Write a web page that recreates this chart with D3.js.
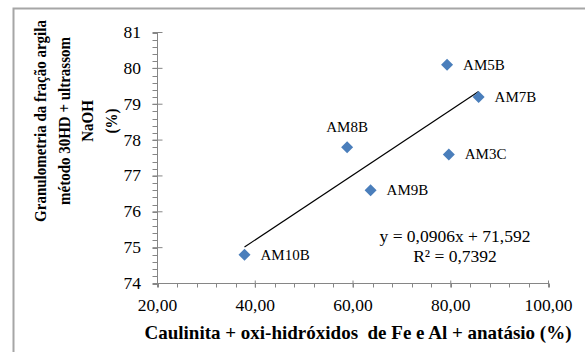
<!DOCTYPE html>
<html>
<head>
<meta charset="utf-8">
<script src="https://cdn.jsdelivr.net/npm/d3@7"></script>
<style>
  body { margin: 0; background: #fff; }
  svg { display: block; font-family: "Liberation Serif", "Times New Roman", serif; }
</style>
</head>
<body>
<div id="chart"></div>
<script>
// Sample data
const samples = ['AM5B', 'AM7B', 'AM8B', 'AM3C', 'AM9B', 'AM10B'];
const xValues = [79.25, 85.7, 58.8, 79.6, 63.6, 37.8];
const yValues = [80.1, 79.2, 77.8, 77.6, 76.6, 74.8];

// Linear trendline
const slope = 0.0906;
const intercept = 71.592;
const equationLines = ['y = 0,0906x + 71,592', 'R² = 0,7392'];

const xTicks = [20, 40, 60, 80, 100];
const yTicks = [74, 75, 76, 77, 78, 79, 80, 81];

const xTitle = 'Caulinita + oxi-hidróxidos  de Fe e Al + anatásio (%)';
const yTitleLines = ['Granulometria da fração argila', 'método 30HD + ultrassom', 'NaOH', '(%)'];

const width = 585, height = 352;
const axisColor = '#868686';
const markerColor = '#4a7ebb';

const svg = d3.select('#chart').append('svg')
  .attr('width', width)
  .attr('height', height);

// Outer chart border
svg.append('rect')
  .attr('x', 13.5).attr('y', 8.5)
  .attr('width', 600).attr('height', 400)
  .attr('fill', 'none')
  .attr('stroke', '#a6a6a6')
  .attr('stroke-width', 2);

const x = d3.scaleLinear().domain([20, 100]).range([157.5, 548.5]);
const y = d3.scaleLinear().domain([74, 81]).range([283.5, 32.5]);

// Y axis: line, minor ticks (left), major ticks (crossing)
const g = svg.append('g');
g.append('line')
  .attr('x1', x(20)).attr('x2', x(20))
  .attr('y1', y(81)).attr('y2', y(74))
  .attr('stroke', axisColor);

g.selectAll('.y-minor')
  .data(d3.range(74, 81.001, 0.2))
  .join('line')
  .attr('x1', x(20) - 5).attr('x2', x(20))
  .attr('y1', d => Math.round(y(d)) + 0.5).attr('y2', d => Math.round(y(d)) + 0.5)
  .attr('stroke', axisColor);

g.selectAll('.y-major')
  .data(yTicks)
  .join('line')
  .attr('x1', x(20) - 5).attr('x2', x(20) + 5)
  .attr('y1', d => y(d)).attr('y2', d => y(d))
  .attr('stroke', axisColor);

g.selectAll('.y-label')
  .data(yTicks)
  .join('text')
  .attr('x', 141)
  .attr('y', d => y(d) + 5.5)
  .attr('text-anchor', 'end')
  .attr('font-size', '17.5px')
  .text(d => d);

// X axis
g.append('line')
  .attr('x1', x(20)).attr('x2', x(100))
  .attr('y1', y(74)).attr('y2', y(74))
  .attr('stroke', axisColor);

g.selectAll('.x-minor')
  .data(d3.range(20, 100.001, 4))
  .join('line')
  .attr('x1', d => Math.round(x(d)) + 0.5).attr('x2', d => Math.round(x(d)) + 0.5)
  .attr('y1', y(74)).attr('y2', y(74) + 4)
  .attr('stroke', axisColor);

g.selectAll('.x-major')
  .data(xTicks)
  .join('line')
  .attr('x1', d => x(d)).attr('x2', d => x(d))
  .attr('y1', y(74) - 3).attr('y2', y(74) + 4)
  .attr('stroke', axisColor);

g.selectAll('.x-label')
  .data(xTicks)
  .join('text')
  .attr('x', d => x(d))
  .attr('y', 310.5)
  .attr('text-anchor', 'middle')
  .attr('font-size', '17.5px')
  .text(d => d.toFixed(2).replace('.', ','));

// Axis titles
svg.append('text')
  .attr('x', 358)
  .attr('y', 339)
  .attr('text-anchor', 'middle')
  .attr('font-size', '19px')
  .attr('font-weight', 'bold')
  .attr('xml:space', 'preserve')
  .style('white-space', 'pre')
  .text(xTitle);

yTitleLines.forEach((line, i) => {
  const cx = 46 + i * 23.5;
  svg.append('text')
    .attr('transform', `translate(${cx},121) scale(1.12,1) rotate(-90)`)
    .attr('text-anchor', 'middle')
    .attr('font-size', '15px')
    .attr('font-weight', 'bold')
    .text(line);
});

// Trendline over the data range
const xExt = d3.extent(xValues);
svg.append('line')
  .attr('x1', x(xExt[0])).attr('y1', y(slope * xExt[0] + intercept))
  .attr('x2', x(xExt[1])).attr('y2', y(slope * xExt[1] + intercept))
  .attr('stroke', '#000')
  .attr('stroke-width', 1.2);

// Diamond markers
const pts = samples.map((s, i) => ({ name: s, x: xValues[i], y: yValues[i] }));
svg.selectAll('.pt')
  .data(pts)
  .join('path')
  .attr('d', d => {
    const cx = x(d.x), cy = y(d.y), r = 6;
    return `M${cx},${cy - r}L${cx + r},${cy}L${cx},${cy + r}L${cx - r},${cy}Z`;
  })
  .attr('fill', markerColor);

// Data labels (AM8B sits above its point)
svg.selectAll('.pt-label')
  .data(pts)
  .join('text')
  .attr('x', d => d.name === 'AM8B' ? x(d.x) : x(d.x) + 16)
  .attr('y', d => d.name === 'AM8B' ? y(d.y) - 15 : y(d.y) + 5)
  .attr('text-anchor', d => d.name === 'AM8B' ? 'middle' : 'start')
  .attr('font-size', '15px')
  .text(d => d.name);

// Trendline equation
equationLines.forEach((line, i) => {
  svg.append('text')
    .attr('x', 455)
    .attr('y', 242 + i * 20)
    .attr('text-anchor', 'middle')
    .attr('font-size', '17.5px')
    .text(line);
});
</script>
</body>
</html>
